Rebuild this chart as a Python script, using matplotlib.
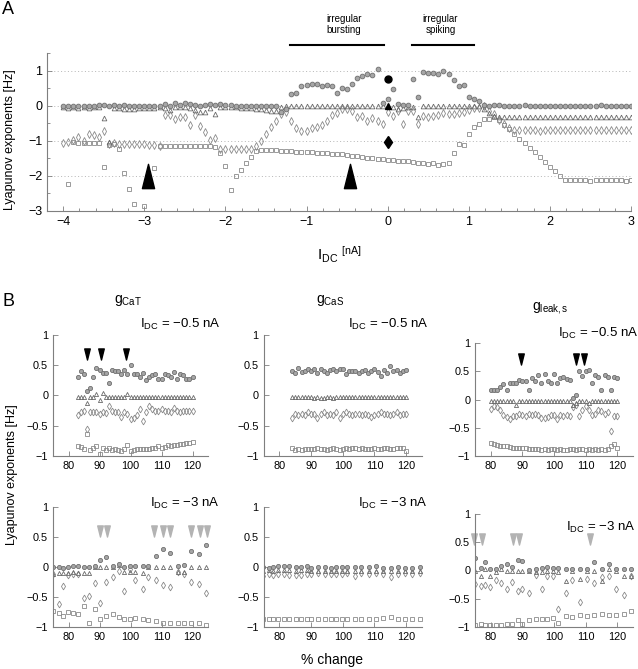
import numpy as np
import matplotlib
matplotlib.use("Agg")
import matplotlib.pyplot as plt
from matplotlib.path import Path
from matplotlib.ticker import MultipleLocator

plt.rcParams['font.family'] = ['Liberation Sans', 'DejaVu Sans']
plt.rcParams['mathtext.fontset'] = 'custom'
plt.rcParams['mathtext.rm'] = 'Liberation Sans'
plt.rcParams['mathtext.it'] = 'Liberation Sans'

W, H = 638, 669
nan = np.nan

# ---------------- panel A: exponents vs I_DC (step 1/16 nA) ----------------
idc = np.linspace(-4, 3, 113)

lam1 = [0.00, -0.01, 0.00, 0.00, -0.01, 0.00, 0.00, 0.01, 0.02, 0.00,
        0.03, 0.00, 0.02, 0.00, 0.00, 0.00, 0.00, 0.00, 0.00, 0.00,
        0.05, 0.00, 0.07, 0.03, 0.08, 0.06, 0.02, 0.00, 0.02, 0.05,
        0.03, 0.06, 0.03, 0.01, 0.00, 0.00, 0.00, 0.00, 0.00, 0.00,
        0.00, 0.00, -0.02, -0.18, -0.09, 0.33, 0.36, 0.57, 0.60, 0.62,
        0.62, 0.55, 0.60, 0.57, 0.36, 0.50, 0.47, 0.62, 0.79, 0.85,
        0.91, 0.88, 1.05, 0.08, 0.20, 0.47, 0.06, 0.03, 0.03, 0.76,
        0.25, 0.95, 0.93, 0.93, 0.91, 1.00, 0.91, 0.72, 0.55, 0.58,
        0.25, 0.19, 0.12, 0.03, 0.00, 0.03, 0.01, 0.00, 0.00, 0.00,
        0.00, 0.01, 0.00, 0.00, 0.00, 0.00, 0.00, 0.00, 0.00, 0.00,
        0.00, 0.00, 0.00, 0.00, 0.00, 0.00, 0.02, 0.00, 0.00, 0.00,
        0.00, 0.00, 0.00]
lam2 = [-0.05, -0.06, -0.05, -0.06, -0.05, -0.06, -0.05, -0.05, -0.35, -1.04,
        -0.06, -0.08, -0.09, -0.10, -0.09, -0.08, -0.07, -0.07, -0.06, -0.05,
        -0.06, -0.13, -0.05, -0.04, -0.05, -0.08, -0.13, -0.17, -0.18, -0.06,
        -0.24, -0.04, -0.03, -0.04, -0.05, -0.06, -0.07, -0.08, -0.09, -0.10,
        -0.12, -0.14, -0.16, -0.04, -0.02, -0.02, -0.02, -0.02, -0.02, -0.02,
        -0.02, -0.02, -0.02, -0.02, -0.02, -0.02, -0.02, -0.02, -0.02, -0.02,
        -0.02, -0.02, -0.02, -0.02, -0.02, -0.05, -0.10, -0.08, -0.05, -0.05,
        -0.32, -0.02, -0.02, -0.02, -0.02, -0.02, -0.02, -0.02, -0.02, -0.02,
        -0.02, -0.02, -0.02, -0.10, -0.22, -0.30, -0.33, -0.33, -0.33, -0.33,
        -0.33, -0.33, -0.33, -0.33, -0.33, -0.33, -0.33, -0.33, -0.33, -0.33,
        -0.33, -0.33, -0.33, -0.33, -0.33, -0.33, -0.33, -0.33, -0.33, -0.33,
        -0.33, -0.33, -0.33]
lam3 = [-1.06, -1.03, -0.99, -0.90, -1.00, -0.82, -0.84, -0.90, -0.72, -1.08,
        -1.06, -1.08, -1.08, -1.08, -1.08, -1.09, -1.10, -1.12, -1.12, -1.14,
        -0.26, -0.28, -0.38, -0.33, -0.32, -0.56, -0.27, -0.59, -0.75, -0.99,
        -0.92, -1.22, -1.23, -1.23, -1.23, -1.23, -1.24, -1.24, -1.15, -1.00,
        -0.80, -0.62, -0.45, -0.25, -0.18, -0.45, -0.63, -0.73, -0.71, -0.65,
        -0.62, -0.54, -0.43, -0.26, -0.21, -0.09, -0.10, -0.16, -0.31, -0.30,
        -0.43, -0.35, -0.43, -0.51, -0.18, -0.30, -0.14, -0.51, -0.16, -0.16,
        -0.51, -0.30, -0.33, -0.30, -0.28, -0.21, -0.24, -0.24, -0.21, -0.18,
        -0.11, -0.07, -0.07, -0.02, -0.16, -0.25, -0.40, -0.52, -0.63, -0.70,
        -0.70, -0.69, -0.70, -0.70, -0.71, -0.70, -0.70, -0.69, -0.70, -0.70,
        -0.70, -0.70, -0.69, -0.70, -0.70, -0.70, -0.70, -0.70, -0.69, -0.70,
        -0.70, -0.70, -0.69]
lam4 = [nan, -2.24, -1.04, -1.05, -1.05, -1.06, -1.06, -1.05, -1.74, -1.13,
        -1.10, -1.23, -1.91, -2.38, -2.81, nan, -2.86, nan, -1.77, -1.15,
        -1.14, -1.14, -1.14, -1.14, -1.15, -1.15, -1.15, -1.15, -1.16, -1.16,
        -1.17, -1.36, -1.72, -2.39, -2.00, -1.82, -1.63, -1.46, -1.28, -1.25,
        -1.25, -1.26, -1.27, -1.28, -1.29, -1.30, -1.31, -1.32, -1.33, -1.33,
        -1.34, -1.35, -1.36, -1.37, -1.38, -1.39, -1.40, -1.42, -1.44, -1.46,
        -1.48, -1.50, -1.52, -1.53, -1.55, -1.56, -1.57, -1.58, -1.59, -1.60,
        -1.62, -1.63, -1.66, -1.63, -1.68, -1.66, -1.62, -1.36, -1.10, -1.12,
        -0.80, -0.61, -0.51, -0.37, -0.37, -0.32, -0.42, -0.54, -0.66, -0.80,
        -0.94, -1.06, -1.20, -1.33, -1.47, -1.60, -1.74, -1.86, -2.00, -2.13,
        -2.13, -2.12, -2.13, -2.13, -2.14, -2.13, -2.13, -2.12, -2.13, -2.13,
        -2.13, -2.14, -2.13]

# highlighted point at I_DC = 0 and the arrowheads
hl_x = [0.0]
hl_lam1, hl_lam2, hl_lam3 = [0.76], [-0.02], [-1.03]
arrowA_x = [-2.95, -0.47]
arrowA_y = [-1.99, -1.99]

# ---------------- panel B: % change of conductances ----------------
pct_top = list(range(83, 121))          # gCaT, I_DC = -0.5
pct_top_mid = list(range(84, 121))      # gCaS, I_DC = -0.5
pct_top_right = list(range(80, 121))    # gleak,s, I_DC = -0.5
pct_bot = [74.9, 76.8, 78.1, 79.7, 81.5, 83.2, 85.1, 86.7, 88.6, 90.0,
           92.2, 94.4, 96.2, 97.8, 99.7, 101.4, 103.9, 105.8, 108.3, 110.4,
           112.8, 115.2, 117.4, 119.6, 122.0, 124.4]

cat_top_l1 = [0.31, 0.41, 0.35, 0.07, 0.12, 0.31, 0.46, 0.42, 0.38, 0.38,
              0.20, 0.42, 0.40, 0.41, 0.35, 0.42, 0.35, 0.50, 0.35, 0.36,
              0.31, 0.38, 0.26, 0.31, 0.34, 0.35, 0.28, 0.27, 0.36, 0.34,
              0.30, 0.39, 0.27, 0.36, 0.34, 0.28, 0.28, 0.30]
cat_top_l2 = [-0.03, -0.03, -0.03, -0.12, -0.03, -0.02, 0.02, -0.08, 0.04, -0.03,
              -0.03, -0.03, -0.03, -0.03, -0.03, -0.03, 0.03, -0.03, -0.03, -0.03,
              -0.03, -0.03, -0.03, -0.03, -0.02, -0.03, -0.03, -0.02, -0.03, -0.03,
              -0.02, -0.03, -0.02, -0.03, -0.02, -0.03, -0.03, -0.03]
cat_top_l3 = [-0.33, -0.27, -0.25, -0.55, -0.27, -0.27, -0.28, -0.30, -0.28, -0.29,
              -0.18, -0.25, -0.27, -0.28, -0.36, -0.28, -0.30, -0.39, -0.37, -0.32,
              -0.22, -0.42, -0.27, -0.17, -0.22, -0.25, -0.26, -0.22, -0.25, -0.26,
              -0.28, -0.20, -0.26, -0.28, -0.25, -0.25, -0.26, -0.25]
cat_top_l4 = [-0.84, -0.85, -0.88, -0.64, -0.90, -0.86, -0.84, -0.96, -0.87, -0.90,
              -0.86, -0.90, -0.88, -0.90, -0.91, -0.89, -0.82, -0.91, -0.90, -0.89,
              -0.89, -0.88, -0.89, -0.88, -0.87, -0.86, -0.84, -0.86, -0.85, -0.82,
              -0.83, -0.82, -0.81, -0.80, -0.80, -0.78, -0.78, -0.77]

cas_top_l1 = [0.40, 0.38, 0.45, 0.39, 0.41, 0.43, 0.40, 0.43, 0.37, 0.44,
              0.41, 0.38, 0.42, 0.43, 0.40, 0.43, 0.44, 0.36, 0.40, 0.41,
              0.40, 0.38, 0.40, 0.42, 0.37, 0.40, 0.44, 0.39, 0.33, 0.42,
              0.38, 0.49, 0.40, 0.42, 0.37, 0.40, 0.42]
cas_top_l2 = [-0.02, -0.02, -0.03, -0.02, -0.03, -0.02, -0.03, -0.04, -0.03, -0.04,
              -0.04, -0.03, -0.02, -0.04, -0.03, -0.03, -0.02, -0.03, -0.02, -0.02,
              -0.02, -0.03, -0.02, -0.02, -0.02, -0.02, -0.02, -0.02, -0.02, -0.02,
              -0.03, -0.02, -0.03, -0.02, -0.03, -0.03, -0.02]
cas_top_l3 = [-0.38, -0.30, -0.33, -0.30, -0.33, -0.28, -0.30, -0.31, -0.38, -0.30,
              -0.28, -0.33, -0.30, -0.32, -0.28, -0.38, -0.30, -0.28, -0.31, -0.33,
              -0.30, -0.31, -0.33, -0.30, -0.33, -0.35, -0.33, -0.30, -0.28, -0.31,
              -0.30, -0.33, -0.30, -0.28, -0.32, -0.30, -0.30]
cas_top_l4 = [-0.87, -0.90, -0.88, -0.90, -0.89, -0.89, -0.89, -0.88, -0.87, -0.89,
              -0.88, -0.90, -0.88, -0.87, -0.89, -0.90, -0.88, -0.86, -0.88, -0.87,
              -0.87, -0.88, -0.87, -0.88, -0.88, -0.88, -0.87, -0.88, -0.89, -0.87,
              -0.86, -0.89, -0.88, -0.87, -0.86, -0.87, -0.92]

leak_top_l1 = [0.16, 0.16, 0.17, 0.22, 0.27, 0.17, 0.29, 0.30, 0.30, 0.35,
               0.33, 0.32, 0.16, 0.38, 0.33, 0.44, 0.30, 0.45, 0.33, 0.30,
               0.46, 0.30, 0.38, 0.40, 0.36, 0.35, 0.02, 0.08, 0.50, 0.42,
               0.51, 0.52, 0.30, 0.44, 0.40, 0.17, 0.43, 0.40, 0.17, 0.40,
               0.38]
leak_top_l2 = [-0.02, -0.02, -0.03, -0.02, -0.02, -0.03, -0.02, -0.02, -0.10, -0.02,
               -0.03, -0.02, -0.02, -0.03, -0.02, -0.02, -0.03, -0.02, -0.02, -0.02,
               -0.03, -0.02, -0.02, -0.02, -0.03, -0.02, -0.10, -0.06, -0.02, -0.02,
               -0.03, -0.06, -0.02, -0.02, -0.03, -0.02, -0.02, -0.03, -0.02, -0.02,
               -0.02]
leak_top_l3 = [-0.17, -0.12, -0.14, -0.19, -0.28, -0.31, -0.35, -0.30, -0.30, -0.26,
               -0.28, -0.29, -0.26, -0.28, -0.25, -0.28, -0.32, -0.33, -0.31, -0.28,
               -0.28, -0.34, -0.28, -0.30, -0.27, -0.29, -0.14, -0.10, -0.30, -0.18,
               -0.12, -0.18, -0.28, -0.25, -0.18, -0.20, -0.25, -0.22, -0.55, -0.30,
               -0.30]
leak_top_l4 = [-0.77, -0.78, -0.80, -0.82, -0.83, -0.82, -0.84, -0.85, -0.85, -0.86,
               -0.85, -0.86, -0.87, -0.88, -0.88, -0.88, -0.89, -0.88, -0.90, -0.88,
               -0.87, -0.89, -0.88, -0.89, -0.89, -0.88, -0.87, -0.89, -0.88, -0.87,
               -0.89, -0.88, -0.89, -0.88, -0.89, -0.88, -0.90, -0.87, -0.83, -0.79,
               -0.85]

cat_bot_l1 = [0.00, 0.00, -0.01, 0.00, 0.01, 0.02, 0.00, 0.00, 0.01, 0.12,
              0.16, 0.01, 0.05, 0.00, 0.01, 0.01, 0.01, 0.01, 0.18, 0.30,
              0.24, 0.02, 0.03, 0.26, 0.21, 0.36]
cat_bot_l2 = [-0.12, -0.10, -0.10, -0.10, -0.09, -0.10, -0.10, -0.10, 0.00, 0.00,
              0.00, 0.00, 0.03, -0.08, -0.08, -0.08, -0.10, 0.00, 0.00, 0.00,
              0.00, -0.08, -0.08, 0.00, 0.00, 0.00]
cat_bot_l3 = [-0.12, -0.62, -0.31, -0.13, -0.12, -0.11, -0.52, -0.49, -0.27, -0.60,
              -0.25, -0.16, -0.06, -0.40, -0.04, -0.21, -0.36, -0.17, -0.21, -0.30,
              -0.33, -0.09, -0.12, -0.25, -0.28, -0.44]
cat_bot_l4 = [-0.73, -0.77, -0.82, -0.75, -0.76, -0.79, -0.65, -0.93, -0.70, -0.86,
              -0.81, -0.79, -0.84, -0.86, -0.86, -0.85, -0.87, -0.88, -0.90, -0.93,
              -0.93, -0.93, -0.94, -0.94, -0.94, -0.97]

cas_bot_l1 = [0.00, -0.01, 0.00, 0.01, 0.02, 0.01, 0.00, 0.00, 0.01, -0.01,
              0.00, 0.00, -0.01, 0.00, 0.00, 0.00, 0.00, 0.00, 0.00, 0.01,
              -0.01, -0.02, 0.00, -0.01, -0.01, 0.00]
cas_bot_l2 = [-0.07, -0.05, -0.06, -0.05, -0.05, -0.05, -0.06, -0.05, -0.05, -0.06,
              -0.06, -0.06, -0.06, -0.07, -0.06, -0.06, -0.06, -0.07, -0.06, -0.06,
              -0.06, -0.06, -0.06, -0.06, -0.06, -0.06]
cas_bot_l3 = [-0.15, -0.12, -0.13, -0.11, -0.12, -0.13, -0.13, -0.13, -0.12, -0.12,
              -0.10, -0.12, -0.11, -0.12, -0.12, -0.10, -0.15, -0.10, -0.12, -0.10,
              -0.11, -0.16, -0.11, -0.10, -0.12, -0.10]
cas_bot_l4 = [-0.86, -0.86, -0.87, -0.87, -0.87, -0.86, -0.86, -0.86, -0.86, -0.86,
              -0.86, -0.86, -0.86, -0.86, -0.86, -0.86, -0.86, -0.86, -0.86, -0.86,
              -0.85, -0.84, -0.86, -0.86, -0.86, -0.86]

leak_bot_l1 = [0.23, 0.05, 0.15, 0.02, 0.03, 0.08, 0.11, 0.07, 0.18, 0.17,
               0.01, 0.03, 0.05, 0.07, 0.04, 0.05, 0.02, 0.02, 0.02, 0.02,
               0.15, 0.02, 0.11, 0.02, 0.03, 0.03]
leak_bot_l2 = [0.00, -0.10, 0.02, -0.10, -0.02, 0.02, 0.00, 0.00, 0.00, 0.00,
               0.00, -0.02, -0.02, 0.00, 0.00, -0.03, -0.18, 0.00, -0.15, 0.00,
               0.00, -0.18, 0.02, 0.00, -0.10, -0.10]
leak_bot_l3 = [-0.24, -0.27, -0.25, -0.29, -0.17, -0.22, -0.33, -0.21, -0.36, -0.33,
               -0.40, -0.08, -0.32, -0.10, -0.10, -0.69, -0.40, -0.17, -0.56, -0.15,
               -0.22, -0.12, -0.10, -0.33, -0.43, -0.10]
leak_bot_l4 = [-0.96, -0.94, -0.97, -0.96, -0.96, -0.96, -0.95, -0.95, -0.88, -0.94,
               -0.87, -0.86, -0.86, -0.86, -0.84, -0.93, -0.80, -0.83, -0.78, -0.80,
               -0.78, -0.77, -0.78, -0.78, -0.77, -0.72]

arrows_cat_top = [86.0, 90.5, 98.6]
arrows_leak_top = [89.5, 107.1, 109.5]
arrows_cat_bot = [90.2, 92.4, 107.7, 110.4, 112.8, 119.6, 122.3, 124.6]
arrows_leak_bot = [74.7, 77.3, 86.9, 89.0, 111.3]
arrow_y = {'cat_top': 0.69, 'leak_top': 0.72, 'cat_bot': 0.60, 'leak_bot': 0.55}

# ---------------- styling helpers ----------------
CI_FACE, CI_EDGE = '#a6a6a6', '#6e6e6e'
TR_EDGE, DI_EDGE, SQ_EDGE = '#6a6a6a', '#8a8a8a', '#8a8a8a'
SPINE = '#7f7f7f'

up_head = Path([(-0.5, -1), (0.5, -1), (0, 1), (-0.5, -1)],
               [Path.MOVETO, Path.LINETO, Path.LINETO, Path.CLOSEPOLY])
down_head = Path([(-0.5, 1), (0.5, 1), (0, -1), (-0.5, 1)],
                 [Path.MOVETO, Path.LINETO, Path.LINETO, Path.CLOSEPOLY])


def px_axes(fig, left, top, right, bottom):
    return fig.add_axes([left / W, 1 - bottom / H, (right - left) / W, (bottom - top) / H])


def draw_four(ax, x, l1, l2, l3, l4, ms):
    ax.plot(x, l4, ls='none', marker='s', ms=ms * 0.85, mfc='none', mec=SQ_EDGE, mew=0.6)
    ax.plot(x, l3, ls='none', marker='d', ms=ms * 1.15, mfc='none', mec=DI_EDGE, mew=0.6)
    ax.plot(x, l2, ls='none', marker='^', ms=ms, mfc='none', mec=TR_EDGE, mew=0.6)
    ax.plot(x, l1, ls='none', marker='o', ms=ms, mfc=CI_FACE, mec=CI_EDGE, mew=0.6)


def style(ax, fs):
    for side in ['top', 'right']:
        ax.spines[side].set_visible(False)
    for side in ['left', 'bottom']:
        ax.spines[side].set_color(SPINE)
        ax.spines[side].set_linewidth(0.8)
    ax.tick_params(which='both', direction='in', color=SPINE, labelsize=fs, width=0.6)
    ax.tick_params(which='major', length=3.5)
    ax.tick_params(which='minor', length=2)
    ax.patch.set_alpha(0)


fig = plt.figure(figsize=(W / 100, H / 100), dpi=100)

# ---------------- panel A ----------------
axA = px_axes(fig, 47, 53, 631, 211)
draw_four(axA, idc, lam1, lam2, lam3, lam4, 3.4)
axA.plot(hl_x, hl_lam1, ls='none', marker='o', ms=5, color='k')
axA.plot(hl_x, hl_lam2, ls='none', marker='^', ms=5, color='k')
axA.plot(hl_x, hl_lam3, ls='none', marker='d', ms=6.5, color='k')
axA.plot(arrowA_x, arrowA_y, ls='none', marker=up_head, ms=17.5, color='k')
axA.set_xlim(-4.2, 3)
axA.set_ylim(-3, 1.5)
axA.set_xticks(range(-4, 4))
axA.set_yticks(range(-3, 2))
axA.xaxis.set_minor_locator(MultipleLocator(0.2))
axA.yaxis.set_minor_locator(MultipleLocator(0.5))
axA.yaxis.grid(True, which='major', ls=(0, (1, 2.5)), color='#b5b5b5', lw=0.7)
axA.set_axisbelow(True)
style(axA, 9)
axA.set_xlabel(r'$\mathregular{I_{DC}}$ $^{\mathregular{[nA]}}$', fontsize=11, labelpad=12)

axA.plot([-1.21, -0.05], [1.73, 1.73], color='k', lw=1.5, clip_on=False)
axA.plot([0.30, 1.07], [1.73, 1.73], color='k', lw=1.5, clip_on=False)
axA.text(-0.54, 2.0, 'irregular\nbursting', ha='center', va='bottom', fontsize=7, linespacing=1.15)
axA.text(0.65, 2.0, 'irregular\nspiking', ha='center', va='bottom', fontsize=7, linespacing=1.15)

fig.text(10 / W, 1 - 140 / H, 'Lyapunov exponents [Hz]', rotation=90, ha='center', va='center', fontsize=9)
fig.text(2 / W, 1 - 9 / H, 'A', ha='left', va='center', fontsize=13)
fig.text(2 / W, 1 - 301 / H, 'B', ha='left', va='center', fontsize=13)

# ---------------- panel B ----------------
cols = [(53, 208), (263.5, 422), (475, 633)]
row_tops = [(335, 335, 343), (507, 507, 514)]
row_bottoms = [456, 627]

panels = [
    (0, 0, pct_top, cat_top_l1, cat_top_l2, cat_top_l3, cat_top_l4, arrows_cat_top, arrow_y['cat_top'], 'k'),
    (0, 1, pct_top_mid, cas_top_l1, cas_top_l2, cas_top_l3, cas_top_l4, [], 0, 'k'),
    (0, 2, pct_top_right, leak_top_l1, leak_top_l2, leak_top_l3, leak_top_l4, arrows_leak_top, arrow_y['leak_top'], 'k'),
    (1, 0, pct_bot, cat_bot_l1, cat_bot_l2, cat_bot_l3, cat_bot_l4, arrows_cat_bot, arrow_y['cat_bot'], '#b3b3b3'),
    (1, 1, pct_bot, cas_bot_l1, cas_bot_l2, cas_bot_l3, cas_bot_l4, [], 0, '#b3b3b3'),
    (1, 2, pct_bot, leak_bot_l1, leak_bot_l2, leak_bot_l3, leak_bot_l4, arrows_leak_bot, arrow_y['leak_bot'], '#b3b3b3'),
]
for r, c, x, l1, l2, l3, l4, arr, arr_y, arr_col in panels:
    ax = px_axes(fig, cols[c][0], row_tops[r][c], cols[c][1], row_bottoms[r])
    draw_four(ax, x, l1, l2, l3, l4, 3.0)
    if arr:
        ax.plot(arr, [arr_y] * len(arr), ls='none', marker=down_head, ms=8, color=arr_col, clip_on=False)
    ax.set_xlim(75, 125)
    ax.set_ylim(-1, 1)
    ax.set_xticks([80, 90, 100, 110, 120])
    ax.set_yticks([-1, -0.5, 0, 0.5, 1])
    ax.set_yticklabels(['\u22121', '\u22120.5', '0', '0.5', '1'])
    style(ax, 7.8)

titles = [(128, 301, r'$\mathregular{g_{CaT}}$'), (330, 301, r'$\mathregular{g_{CaS}}$'),
          (550, 308, r'$\mathregular{g_{leak,s}}$')]
for tx, ty, s in titles:
    fig.text(tx / W, 1 - ty / H, s, ha='center', va='center', fontsize=10)

idc_texts = [(140, 324, '\u22120.5'), (348, 324, '\u22120.5'), (558, 333, '\u22120.5'),
             (150, 503, '\u22123'), (358, 503, '\u22123'), (566, 527, '\u22123')]
for tx, ty, v in idc_texts:
    fig.text(tx / W, 1 - ty / H, r'$\mathregular{I_{DC}}$ = ' + v + ' nA', ha='left', va='center', fontsize=9.5)

fig.text(12 / W, 1 - 475 / H, 'Lyapunov exponents [Hz]', rotation=90, ha='center', va='center', fontsize=9)
fig.text(332 / W, 1 - 660 / H, '% change', ha='center', va='center', fontsize=10)

fig.savefig('out.png', dpi=100)
